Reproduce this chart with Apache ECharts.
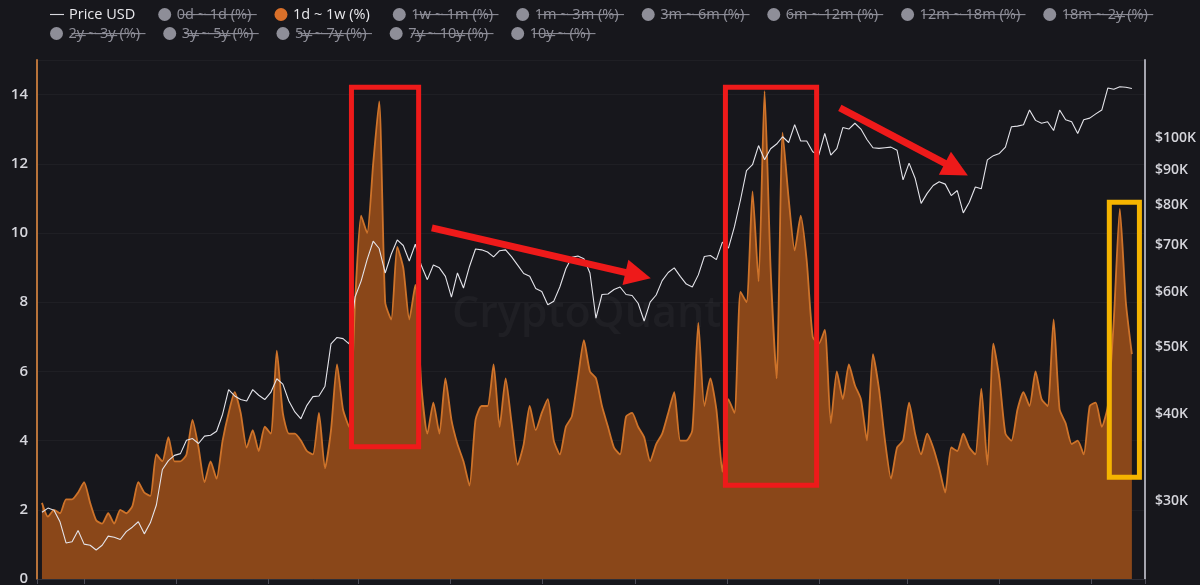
<!DOCTYPE html>
<html><head><meta charset="utf-8">
<script src="https://cdn.jsdelivr.net/npm/echarts@6/dist/echarts.min.js"></script>
<style>html,body{margin:0;padding:0;background:#17171c;}#c{width:1200px;height:585px;}</style>
</head><body><div id="c"></div>
<script>
// ---- data (sampled every 4 days from 2023-08-04) ----
const START_DATE_UTC = Date.UTC(2023, 7, 4);
const STEP_DAYS = 4;

const flow1dTo1w = [
2.2,1.8,2.0,1.9,2.3,2.3,2.5,2.8,2.2,1.7,
1.6,1.9,1.6,2.0,1.9,2.1,2.8,2.5,2.4,3.6,
3.4,4.1,3.4,3.4,3.6,4.6,3.8,2.8,3.4,2.9,
4.0,4.8,5.4,4.8,3.8,4.3,3.7,4.4,4.2,6.6,
4.8,4.2,4.2,4.0,3.7,3.6,4.8,3.2,4.3,6.2,
4.9,4.4,8.0,10.5,10.0,12.0,13.8,8.0,7.5,9.6,
9.0,7.5,8.5,5.6,4.2,5.1,4.2,5.8,4.6,3.9,
3.4,2.7,4.6,5.0,5.0,6.2,4.4,5.8,4.5,3.3,
3.9,5.0,4.3,4.8,5.2,4.0,3.6,4.4,4.7,5.8,
6.9,6.0,5.8,5.0,4.4,3.8,3.6,4.7,4.8,4.4,
4.1,3.4,3.9,4.2,4.8,5.4,4.0,4.0,4.3,7.4,
5.0,5.8,4.9,3.1,5.2,4.8,8.3,8.0,11.2,8.6,
14.1,9.0,5.8,12.9,11.0,9.5,10.5,9.2,7.0,6.8,
7.2,4.5,6.0,5.2,6.2,5.6,5.2,4.0,6.5,5.5,
4.0,2.9,3.8,4.0,5.1,4.2,3.6,4.2,3.8,3.2,
2.5,3.8,3.7,4.2,3.8,3.6,5.5,3.3,6.8,5.8,
4.2,4.0,4.9,5.4,5.0,6.0,5.2,5.0,7.5,4.9,
4.5,3.9,4.0,3.6,5.0,5.1,4.4,5.0,7.5,10.7,
8.0,6.5];

const priceUSD = [
28900,29300,29100,28000,26100,26200,27200,26000,25900,25500,
25900,26700,26600,26400,27100,27500,28000,26900,27900,29600,
33300,34300,34900,35100,36700,36900,36300,37200,37300,37800,
40000,43400,42500,42000,41800,43400,42600,42000,43000,45000,
44200,41800,40300,39400,41200,42400,42500,43900,50500,51600,
51400,50500,59000,62200,66800,71000,69300,63900,68000,71300,
70000,66500,70300,65500,62500,65600,65000,63200,59000,63900,
60800,65300,69200,69000,68500,67400,68800,69000,67400,65600,
63800,63200,60700,60100,57500,58200,61000,64800,67300,67600,
67000,63900,55000,59500,59600,60500,61000,59500,59300,57800,
54500,58000,59400,62300,64000,65000,63200,61600,61000,63500,
67500,67700,66800,70800,69400,74500,81400,89700,91500,97500,
93000,96500,98000,100400,98500,104500,99000,99000,95500,94500,
101500,94500,96500,103500,103000,105000,103000,99500,96800,96600,
96800,97000,96000,87000,92000,87500,80500,83200,85400,86500,
85800,82600,84000,78000,80800,85000,84500,93000,94300,95000,
97000,103800,104000,104500,109700,106000,105000,105500,102500,109700,
106200,105500,101500,106200,106800,108300,109700,118000,117500,118500,
118300,117800];

const priceTickValues = [30000,40000,50000,60000,70000,80000,90000,100000];

const legendRow1 = ['Price USD','0d ~ 1d (%)','1d ~ 1w (%)','1w ~ 1m (%)','1m ~ 3m (%)','3m ~ 6m (%)','6m ~ 12m (%)','12m ~ 18m (%)','18m ~ 2y (%)'];
const legendRow2 = ['2y ~ 3y (%)','3y ~ 5y (%)','5y ~ 7y (%)','7y ~ 10y (%)','10y ~ (%)'];
const activeNames = ['Price USD','1d ~ 1w (%)'];

// annotations: [x0, y0, x1, y1] in data space
const redBoxes = [
  ['2024-02-25 14:00', 14.21, '2024-04-10 05:00', 3.82],
  ['2024-10-31 00:00', 14.21, '2024-12-30 14:00', 2.71]
];
const yellowBox = ['2025-07-13 00:00', 10.89, '2025-08-02 00:00', 2.94];
const redArrows = [
  ['2024-04-19 00:00', 74200, '2024-09-03 00:00', 63400],
  ['2025-01-15 00:00', 110500, '2025-04-02 10:00', 90100]
];

// ---- build ----
const dates = flow1dTo1w.map((_, i) => START_DATE_UTC + i * STEP_DAYS * 86400000);
const FONT = '"Open Sans", "Noto Sans", sans-serif';
const strike = s => s.split('').map(c => c + '\u0336').join('');
const fmtLegend = n => activeNames.includes(n) ? n : strike(n);
const selectedMap = names => Object.fromEntries(names.map(n => [n, activeNames.includes(n)]));
const legendData = names => names.map(n => n === 'Price USD'
  ? { name: n, icon: 'path://M0,0H20V1.6H0Z' }
  : { name: n, icon: 'circle' });

const legendBase = {
  left: 50, padding: 0, itemGap: 23, itemWidth: 14, itemHeight: 13,
  inactiveColor: '#8e8e98', formatter: fmtLegend,
  textStyle: { color: '#e8e8ec', fontSize: 14.5, fontFamily: FONT }
};

const disabledSeries = legendRow1.concat(legendRow2)
  .filter(n => !activeNames.includes(n))
  .map(n => ({ name: n, type: 'line', data: [], yAxisIndex: 0, symbol: 'none', itemStyle: { color: '#9a9aa4' } }));

const chart = echarts.init(document.getElementById('c'), null, { renderer: 'canvas' });
chart.setOption({
  backgroundColor: '#17171c',
  animation: false,
  textStyle: { fontFamily: FONT },
  legend: [
    Object.assign({}, legendBase, { top: 7, data: legendData(legendRow1), selected: selectedMap(legendRow1) }),
    Object.assign({}, legendBase, { top: 26, data: legendData(legendRow2), selected: selectedMap(legendRow2) })
  ],
  grid: { left: 37, right: 55, top: 60, bottom: 6, containLabel: false, outerBoundsMode: 'none' },
  xAxis: {
    type: 'time',
    min: '2023-07-31 17:00', max: '2025-08-05 17:00',
    splitNumber: 12,
    axisLabel: { show: false },
    axisLine: { show: true, lineStyle: { color: '#2e2e36', width: 1 } },
    axisTick: { show: true, length: 5, lineStyle: { color: '#4d4d58' } },
    splitLine: { show: false }
  },
  yAxis: [
    {
      type: 'value', min: 0, max: 15, interval: 2, position: 'left',
      axisLine: { show: true, lineStyle: { color: '#b8733a', width: 2 } },
      axisTick: { show: false },
      axisLabel: { color: '#d6d6dc', fontSize: 15, fontWeight: 600, margin: 9,
                   formatter: v => (v % 2 === 0 ? String(v) : '') },
      splitLine: { show: true, lineStyle: { color: 'rgba(255,255,255,0.035)' } }
    },
    {
      type: 'log', logBase: 10, min: 23160, max: 129500, position: 'right',
      axisLine: { show: true, lineStyle: { color: '#a4a4ae', width: 2 } },
      axisTick: { show: false },
      axisLabel: { customValues: priceTickValues, color: '#d6d6dc', fontSize: 14, fontWeight: 600, margin: 10,
                   formatter: v => '$' + Math.round(v / 1000) + 'K' },
      splitLine: { show: false }
    }
  ],
  graphic: [{
    type: 'text', left: 452, top: 293, silent: true, z: 1,
    style: { text: 'CryptoQuant', fill: 'rgba(255,255,255,0.035)', font: '600 43px "Open Sans"' }
  }],
  series: [
    {
      name: 'Price USD', type: 'line', yAxisIndex: 1, z: 3,
      data: dates.map((d, i) => [d, priceUSD[i]]),
      symbol: 'none', lineStyle: { color: '#e4e4ea', width: 1.1 }, itemStyle: { color: '#d8d8de' }
    },
    {
      name: '1d ~ 1w (%)', type: 'line', yAxisIndex: 0, z: 2,
      data: dates.map((d, i) => [d, flow1dTo1w[i]]),
      smooth: 0.2, symbol: 'none',
      lineStyle: { color: '#d5772b', width: 1.8, opacity: 0.95 },
      areaStyle: { color: '#8a4719', opacity: 1 },
      itemStyle: { color: '#d9702a' }
    }
  ].concat(disabledSeries).concat([
    {
      name: 'annotBoxes', type: 'line', yAxisIndex: 0, data: [], z: 10, silent: true,
      markArea: {
        silent: true, z: 20,
        itemStyle: { color: 'rgba(0,0,0,0)', borderColor: '#ee1a1a', borderWidth: 5 },
        data: redBoxes.map(b => [{ coord: [b[0], b[1]] }, { coord: [b[2], b[3]] }])
          .concat([[{ coord: [yellowBox[0], yellowBox[1]], itemStyle: { color: 'rgba(0,0,0,0)', borderColor: '#f5b400', borderWidth: 5 } },
                    { coord: [yellowBox[2], yellowBox[3]] }]])
      }
    },
    {
      name: 'annotArrows', type: 'line', yAxisIndex: 1, data: [], z: 10, silent: true,
      markLine: {
        silent: true, z: 20, symbol: ['none', 'triangle'], symbolSize: 26,
        lineStyle: { color: '#ee1a1a', width: 7, type: 'solid', opacity: 1 },
        label: { show: false },
        data: redArrows.map(a => [{ coord: [a[0], a[1]] }, { coord: [a[2], a[3]] }])
      }
    }
  ])
});
</script></body></html>
